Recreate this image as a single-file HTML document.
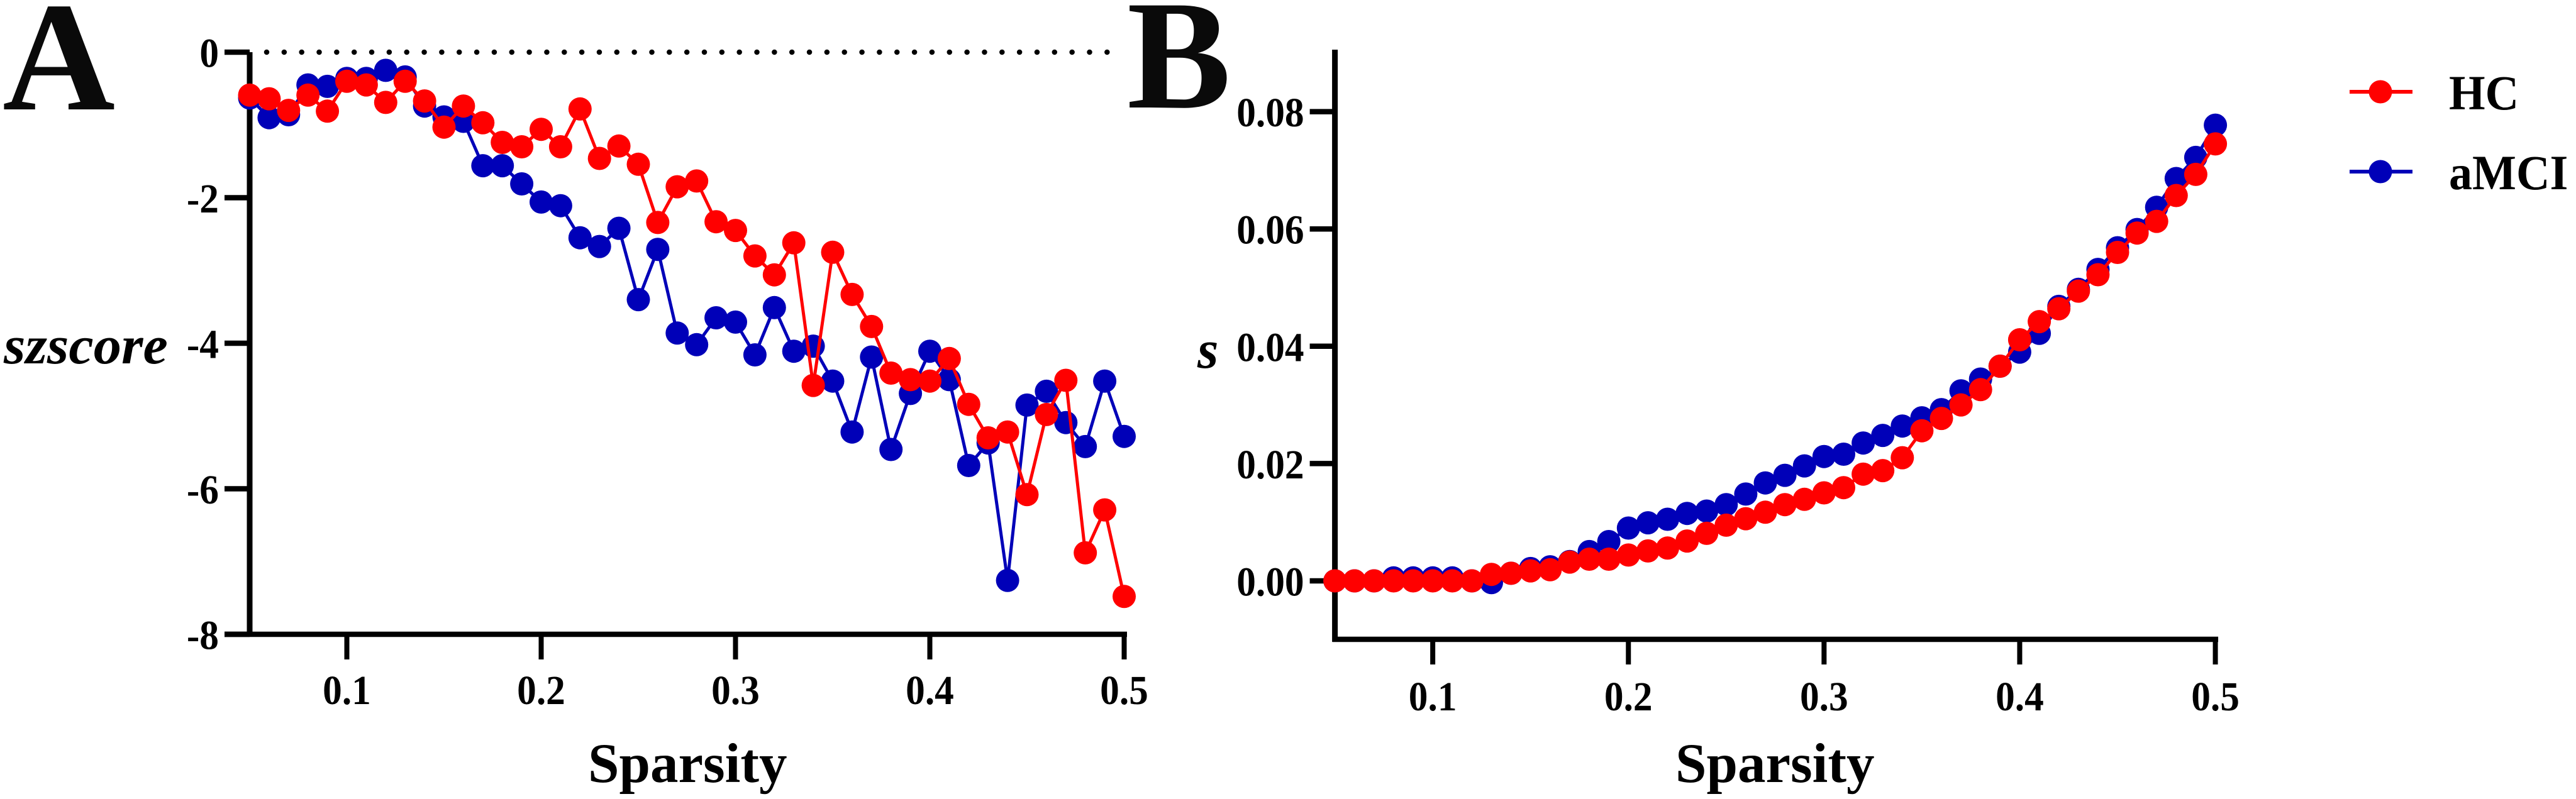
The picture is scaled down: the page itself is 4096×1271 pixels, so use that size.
<!DOCTYPE html>
<html lang="en">
<head>
<meta charset="utf-8">
<title>Sparsity charts</title>
<style>
html,body{margin:0;padding:0;background:#fff;width:4096px;height:1271px;overflow:hidden}
svg{display:block}
text{font-family:"Liberation Serif",serif;font-weight:bold;fill:#000}
</style>
</head>
<body>
<svg id="figure" xmlns="http://www.w3.org/2000/svg" width="4096" height="1271" viewBox="0 0 4096 1271">
  <rect x="0" y="0" width="4096" height="1271" fill="#fff"/>
  <text x="4" y="174" font-size="248" style="fill:#0a0a0a">A</text>
  <text x="1792" y="171" font-size="248" style="fill:#0a0a0a">B</text>
  <text transform="translate(6 578) scale(1.03 1)" font-size="86" font-style="italic">szscore</text>
  <text transform="translate(1904 585)" font-size="86" font-style="italic">s</text>
  <text x="935" y="1244" font-size="89">Sparsity</text>
  <text x="2664" y="1244" font-size="89">Sparsity</text>
  <line x1="424" y1="83" x2="1762" y2="83" stroke="#000" stroke-width="8.5" stroke-linecap="round" stroke-dasharray="0.01 27.83"/>
  <g id="plots"></g>
  <g>
    <g>
      <line x1="3736" y1="146" x2="3836" y2="146" stroke="#ff0000" stroke-width="6"/>
      <circle cx="3785" cy="146" r="18.5" fill="#ff0000"/>
      <text transform="translate(3894 174) scale(.95 1)" font-size="78">HC</text>
    </g>
    <g>
      <line x1="3736" y1="273" x2="3836" y2="273" stroke="#0000b8" stroke-width="6"/>
      <circle cx="3785" cy="273" r="18.5" fill="#0000b8"/>
      <text transform="translate(3894 301) scale(.95 1)" font-size="78">aMCI</text>
    </g>
  </g>
</svg>
<script>
const sparsity = [0.05,0.06,0.07,0.08,0.09,0.10,0.11,0.12,0.13,0.14,0.15,0.16,0.17,0.18,0.19,0.20,0.21,0.22,0.23,0.24,0.25,0.26,0.27,0.28,0.29,0.30,0.31,0.32,0.33,0.34,0.35,0.36,0.37,0.38,0.39,0.40,0.41,0.42,0.43,0.44,0.45,0.46,0.47,0.48,0.49,0.50];
const xTickValues = [0.1,0.2,0.3,0.4,0.5];
const xTickLabels = ["0.1","0.2","0.3","0.4","0.5"];

const szscoreTickValues = [0,-2,-4,-6,-8];
const szscoreTickLabels = ["0","-2","-4","-6","-8"];
const szscoreAmci = [-0.63,-0.90,-0.86,-0.45,-0.47,-0.36,-0.36,-0.25,-0.34,-0.74,-0.89,-0.95,-1.56,-1.56,-1.81,-2.06,-2.11,-2.55,-2.67,-2.42,-3.40,-2.71,-3.86,-4.02,-3.65,-3.71,-4.16,-3.51,-4.11,-4.04,-4.52,-5.22,-4.19,-5.46,-4.69,-4.11,-4.50,-5.68,-5.37,-7.26,-4.85,-4.66,-5.09,-5.42,-4.52,-5.28];
const szscoreHc = [-0.59,-0.64,-0.80,-0.59,-0.81,-0.40,-0.45,-0.69,-0.40,-0.67,-1.03,-0.74,-0.97,-1.24,-1.30,-1.06,-1.30,-0.78,-1.46,-1.29,-1.54,-2.34,-1.85,-1.77,-2.33,-2.45,-2.80,-3.06,-2.62,-4.58,-2.75,-3.33,-3.77,-4.41,-4.50,-4.52,-4.21,-4.84,-5.30,-5.22,-6.08,-4.98,-4.51,-6.88,-6.29,-7.48];

const sTickValues = [0,0.02,0.04,0.06,0.08];
const sTickLabels = ["0.00","0.02","0.04","0.06","0.08"];
const sAmci = [0,0,0,0.0005,0.0005,0.0005,0.0005,0,-0.0003,0.0013,0.0021,0.0024,0.0033,0.0050,0.0067,0.0090,0.0099,0.0105,0.0115,0.0119,0.0130,0.0148,0.0167,0.0180,0.0196,0.0212,0.0216,0.0235,0.0248,0.0264,0.0278,0.0292,0.0324,0.0344,0.0366,0.0390,0.0422,0.0468,0.0497,0.0531,0.0568,0.0599,0.0637,0.0686,0.0722,0.0777];
const sHc = [0,0,0,0,0,0,0,0,0.0011,0.0013,0.0017,0.0019,0.0032,0.0037,0.0037,0.0044,0.0051,0.0056,0.0068,0.0081,0.0095,0.0106,0.0117,0.0130,0.0139,0.0150,0.0159,0.0182,0.0188,0.0210,0.0256,0.0277,0.0300,0.0326,0.0366,0.0411,0.0442,0.0464,0.0494,0.0522,0.0560,0.0593,0.0613,0.0657,0.0693,0.0745];

const SVG_NS = "http://www.w3.org/2000/svg";
const plots = document.getElementById("plots");
const RED = "#ff0000";
const BLUE = "#0000b8";

function make(tag, parent) {
  const el = document.createElementNS(SVG_NS, tag);
  parent.appendChild(el);
  return el;
}
function segment(parent, x1, y1, x2, y2, width) {
  const l = make("line", parent);
  l.setAttribute("x1", x1);
  l.setAttribute("y1", y1);
  l.setAttribute("x2", x2);
  l.setAttribute("y2", y2);
  l.setAttribute("stroke", "#000");
  l.setAttribute("stroke-width", width);
  return l;
}
function label(parent, x, y, str, anchor) {
  const t = make("text", parent);
  t.setAttribute("transform", "translate(" + x + " " + y + ") scale(.93 1)");
  t.setAttribute("font-size", "66");
  t.setAttribute("text-anchor", anchor);
  t.textContent = str;
  return t;
}
function drawSeries(parent, xs, ys, xScale, yScale, color, key, lineWidth) {
  const g = make("g", parent);
  
  
  const path = make("polyline", g);
  
  
  path.setAttribute("fill", "none");
  path.setAttribute("stroke", color);
  path.setAttribute("stroke-width", lineWidth);
  path.setAttribute("points", xs.map(function (v, i) { return xScale(v).toFixed(1) + "," + yScale(ys[i]).toFixed(1); }).join(" "));
  xs.forEach(function (v, i) {
    const c = make("circle", g);
    
    
    c.setAttribute("cx", xScale(v).toFixed(1));
    c.setAttribute("cy", yScale(ys[i]).toFixed(1));
    c.setAttribute("r", "18.5");
    c.setAttribute("fill", color);
  });
}

function drawPanel(cfg) {
  const g = make("g", plots);
  
  

  const axes = make("g", g);
  
  

  const yAxis = segment(axes, cfg.x(0.05), cfg.axisTop, cfg.x(0.05), cfg.axisY + 4, 9);
  
  
  const xAxis = segment(axes, cfg.axisLeft, cfg.axisY, cfg.x(0.5) + 4.5, cfg.axisY, 8.5);
  
  

  cfg.yTicks.forEach(function (v, i) {
    const tick = segment(axes, cfg.x(0.05) - 40, cfg.y(v), cfg.x(0.05), cfg.y(v), 8.5);
    
    
    const t = label(axes, cfg.x(0.05) - cfg.yLabelGap, cfg.y(v) + 23.5, cfg.yLabels[i], "end");
    
    
  });
  xTickValues.forEach(function (v, i) {
    const tick = segment(axes, cfg.x(v), cfg.axisY, cfg.x(v), cfg.axisY + 40, 8);
    
    
    const t = label(axes, cfg.x(v), cfg.xLabelY, xTickLabels[i], "middle");
    
    
  });

  drawSeries(g, sparsity, cfg.amci, cfg.x, cfg.y, BLUE, cfg.key + "-amci", 5);
  drawSeries(g, sparsity, cfg.hc, cfg.x, cfg.y, RED, cfg.key + "-hc", 5);
}

drawPanel({
  key: "panel-a",
  x: function (v) { return 397 + (v - 0.05) * 3090; },
  y: function (v) { return 83 - v * 115.75; },
  axisTop: 83,
  axisY: 1009,
  axisLeft: 357,
  yTicks: szscoreTickValues,
  yLabels: szscoreTickLabels,
  yLabelGap: 49,
  xLabelY: 1120,
  amci: szscoreAmci,
  hc: szscoreHc
});
drawPanel({
  key: "panel-b",
  x: function (v) { return 2122.6 + (v - 0.05) * 3111; },
  y: function (v) { return 924 - v * 9330; },
  axisTop: 79,
  axisY: 1017,
  axisLeft: 2118.5,
  yTicks: sTickValues,
  yLabels: sTickLabels,
  yLabelGap: 49,
  xLabelY: 1130,
  amci: sAmci,
  hc: sHc
});
</script>
</body>
</html>
